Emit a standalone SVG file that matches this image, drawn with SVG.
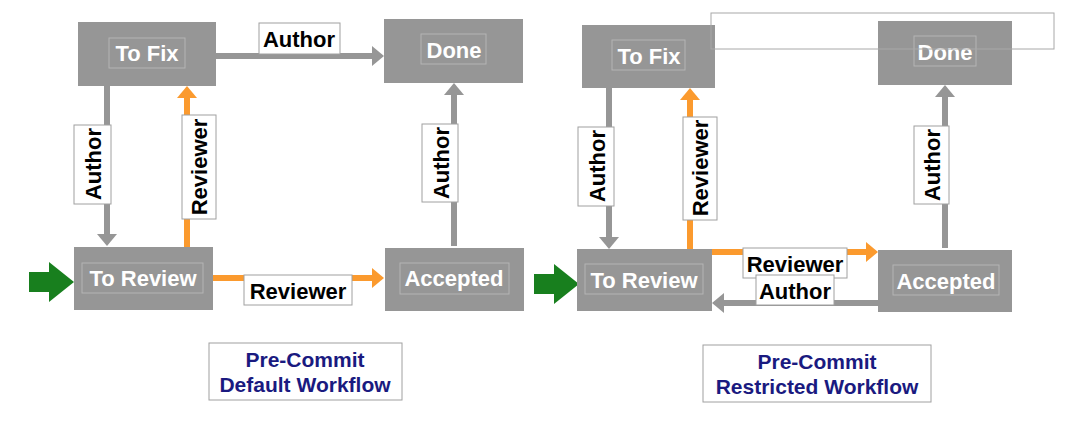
<svg xmlns="http://www.w3.org/2000/svg" width="1076" height="440" viewBox="0 0 1076 440">
<style>
.n{fill:#969696}
.nt{font-family:"Liberation Sans",Arial,sans-serif;font-weight:bold;font-size:22px;fill:#fff;text-anchor:middle}
.ib{fill:none;stroke:#b4b4b4;stroke-width:1}
.lb{fill:#fff;stroke:#a0a0a0;stroke-width:1}
.lt{font-family:"Liberation Sans",Arial,sans-serif;font-weight:bold;font-size:22px;fill:#000;text-anchor:middle}
.g{stroke:#969696;stroke-width:6;fill:none}
.o{stroke:#fb9a2e;stroke-width:6;fill:none}
.cap{font-family:"Liberation Sans",Arial,sans-serif;font-weight:bold;font-size:21px;fill:#1a1a80;text-anchor:middle}
</style>
<defs>
<marker id="ag" markerWidth="12" markerHeight="20" refX="0" refY="10" orient="auto" markerUnits="userSpaceOnUse"><path d="M0,0L12,10L0,20z" fill="#969696"/></marker>
<marker id="ao" markerWidth="12" markerHeight="20" refX="0" refY="10" orient="auto" markerUnits="userSpaceOnUse"><path d="M0,0L12,10L0,20z" fill="#fb9a2e"/></marker>
</defs>
<g id="connectors">
<line class="g" x1="216" y1="56" x2="372" y2="56" marker-end="url(#ag)"/>
<line class="g" x1="107" y1="86" x2="107" y2="234" marker-end="url(#ag)"/>
<line class="o" x1="187" y1="247" x2="187" y2="98" marker-end="url(#ao)"/>
<line class="g" x1="454" y1="246" x2="454" y2="95" marker-end="url(#ag)"/>
<line class="o" x1="213" y1="278" x2="372" y2="278" marker-end="url(#ao)"/>
<path d="M29,272h20v-10l25,20l-25,20v-10h-20z" fill="#187f1e"/>
<line class="g" x1="609" y1="88" x2="609" y2="237" marker-end="url(#ag)"/>
<line class="o" x1="690" y1="249" x2="690" y2="100" marker-end="url(#ao)"/>
<line class="g" x1="945" y1="248" x2="945" y2="97" marker-end="url(#ag)"/>
<line class="o" x1="710" y1="252" x2="866" y2="252" marker-end="url(#ao)"/>
<line class="g" x1="878" y1="303" x2="724" y2="303" marker-end="url(#ag)"/>
<path d="M534,274h20v-10l25,20l-25,20v-10h-20z" fill="#187f1e"/>
<rect class="lb" x="259" y="23" width="81" height="31"/><text class="lt" x="299" y="47">Author</text>
<rect class="lb" x="74" y="125" width="37" height="79"/><text class="lt" transform="translate(101,164) rotate(-90)">Author</text>
<rect class="lb" x="182" y="115" width="34" height="104"/><text class="lt" transform="translate(207,167) rotate(-90)">Reviewer</text>
<rect class="lb" x="422" y="124" width="36" height="78"/><text class="lt" transform="translate(449,163) rotate(-90)">Author</text>
<rect class="lb" x="244" y="275" width="108" height="30"/><text class="lt" x="298" y="299">Reviewer</text>
<rect class="lb" x="578" y="127" width="36" height="79"/><text class="lt" transform="translate(605,166) rotate(-90)">Author</text>
<rect class="lb" x="683" y="117" width="34" height="103"/><text class="lt" transform="translate(708,168) rotate(-90)">Reviewer</text>
<rect class="lb" x="914" y="126" width="35" height="78"/><text class="lt" transform="translate(940,165) rotate(-90)">Author</text>
<rect class="lb" x="743" y="248" width="104" height="30"/><text class="lt" x="795" y="272">Reviewer</text>
<rect class="lb" x="756" y="275" width="78" height="30"/><text class="lt" x="795" y="299">Author</text>
</g>
<g id="tofix1"><rect class="n" x="78" y="22" width="138" height="64"/><rect class="ib" x="109" y="38" width="76" height="30"/><text class="nt" x="147" y="61">To Fix</text></g>
<g id="done1"><rect class="n" x="384" y="19" width="139" height="64"/><rect class="ib" x="421" y="34" width="65" height="30"/><text class="nt" x="454" y="58">Done</text></g>
<g id="toreview1"><rect class="n" x="74" y="247" width="139" height="63"/><rect class="ib" x="82" y="263" width="121" height="30"/><text class="nt" x="143" y="286">To Review</text></g>
<g id="accepted1"><rect class="n" x="385" y="248" width="139" height="63"/><rect class="ib" x="400" y="263" width="109" height="31"/><text class="nt" x="454" y="286">Accepted</text></g>
<g id="tofix2"><rect class="n" x="582" y="25" width="133" height="63"/><rect class="ib" x="612" y="40" width="73" height="30"/><text class="nt" x="649" y="64">To Fix</text></g>
<g id="done2"><rect class="n" x="878" y="21" width="134" height="64"/><rect class="ib" x="914" y="36" width="62" height="30"/><text class="nt" x="945" y="60">Done</text></g>
<g id="toreview2"><rect class="n" x="577" y="249" width="135" height="62"/><rect class="ib" x="585" y="264" width="118" height="30"/><text class="nt" x="644" y="288">To Review</text></g>
<g id="accepted2"><rect class="n" x="878" y="250" width="134" height="62"/><rect class="ib" x="893" y="265" width="106" height="30"/><text class="nt" x="946" y="289">Accepted</text></g>
<rect x="711" y="13" width="343" height="36" fill="none" stroke="#a8a8a8" stroke-width="1"/>
<g id="caption1"><rect class="lb" x="209" y="343" width="193" height="57"/><text class="cap" x="305" y="367">Pre-Commit</text><text class="cap" x="305" y="392">Default Workflow</text></g>
<g id="caption2"><rect class="lb" x="703" y="345" width="228" height="57"/><text class="cap" x="817" y="369">Pre-Commit</text><text class="cap" x="817" y="394">Restricted Workflow</text></g>
</svg>
